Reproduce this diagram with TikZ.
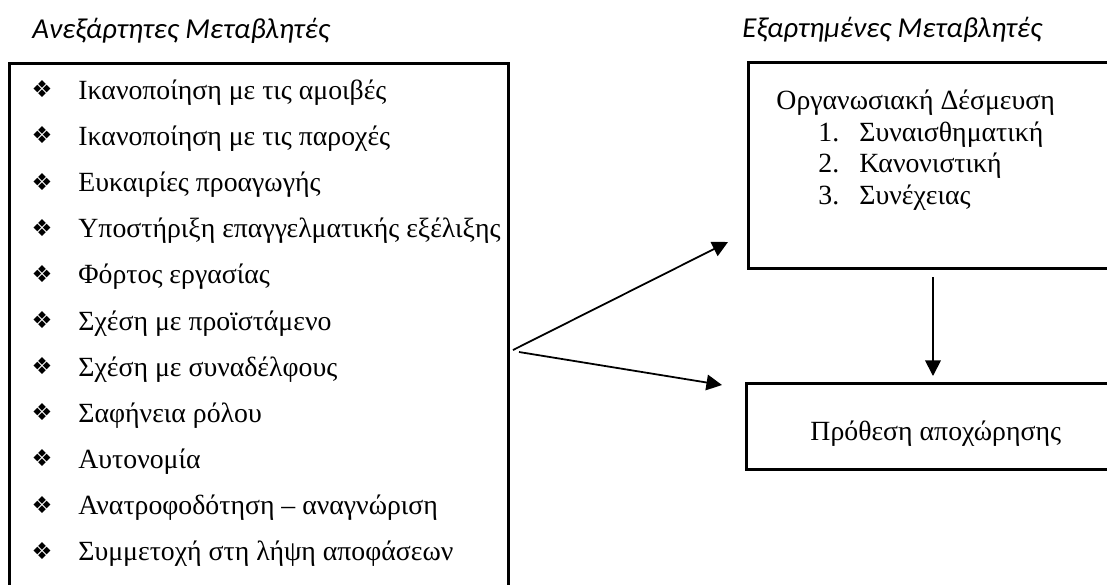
\documentclass[tikz,border=0pt]{standalone}
\usepackage{fontspec}
\setmainfont{Liberation Serif}
\newfontfamily\headfont{Carlito}
\newfontfamily\dingfont{DejaVu Sans}
\usetikzlibrary{arrows.meta}

\tikzset{
  heading/.style={anchor=base west, inner sep=0pt, font=\headfont\itshape\fontsize{13}{15}\selectfont},
  boxframe/.style={draw, line width=1.25pt, inner sep=0pt, anchor=north west},
  item/.style={anchor=base west, inner sep=0pt, font=\fontsize{12.5}{15}\selectfont},
  bul/.style={anchor=center, inner sep=0pt, font=\dingfont\fontsize{10.5}{12}\selectfont},
  link/.style={line width=0.8pt, -{Triangle[length=7pt,width=7pt]}},
}

\begin{document}
\begin{tikzpicture}[x=0.45pt,y=-0.45pt]
\useasboundingbox (0,0) rectangle (1107,584);
\clip (0,0) rectangle (1107,584);

% column headings
\node[heading] (hin)  at (32,38)  {Ανεξάρτητες Μεταβλητές};
\node[heading] (hout) at (742,37) {Εξαρτημένες Μεταβλητές};

% frames (the open sides run past the edge of the page)
\node[boxframe, minimum width=499*0.45pt, minimum height=560*0.45pt] (indep) at (8,62) {};
\node[boxframe, minimum width=400*0.45pt, minimum height=206*0.45pt] (commit) at (747,61) {};
\node[boxframe, minimum width=400*0.45pt, minimum height=86*0.45pt] (leave) at (745,382) {};

% list of independent variables
\foreach \t [count=\i from 0] in {
  Ικανοποίηση με τις αμοιβές,
  Ικανοποίηση με τις παροχές,
  Ευκαιρίες προαγωγής,
  Υποστήριξη επαγγελματικής εξέλιξης,
  Φόρτος εργασίας,
  Σχέση με προϊστάμενο,
  Σχέση με συναδέλφους,
  Σαφήνεια ρόλου,
  Αυτονομία,
  Ανατροφοδότηση – αναγνώριση,
  Συμμετοχή στη λήψη αποφάσεων}{
  \node[bul]  (b\i) at (42,{89.3+46.14*\i}) {❖};
  \node[item] (v\i) at (78,{99.3+46.14*\i}) {\t};
}

% organisational commitment
\node[item] (ctitle) at (776,109.5) {Οργανωσιακή Δέσμευση};
\foreach \t [count=\i] in {Συναισθηματική, Κανονιστική, Συνέχειας}{
  \node[item] (n\i) at (818,{109.5+31.5*\i}) {\i.};
  \node[item] (c\i) at (859,{109.5+31.5*\i}) {\t};
}

% turnover intention
\node[item] (ltext) at (810,440) {Πρόθεση αποχώρησης};

% connectors
\coordinate (s1) at (513,350);
\coordinate (s2) at (519,352);
\coordinate (t1) at (728,242);
\coordinate (t2) at (722,385);
\coordinate (d1) at (933,277);
\coordinate (d2) at (933,376);
\draw[link] (s1) -- (t1);
\draw[link] (s2) -- (t2);
\draw[link] (d1) -- (d2);
\end{tikzpicture}
\end{document}
